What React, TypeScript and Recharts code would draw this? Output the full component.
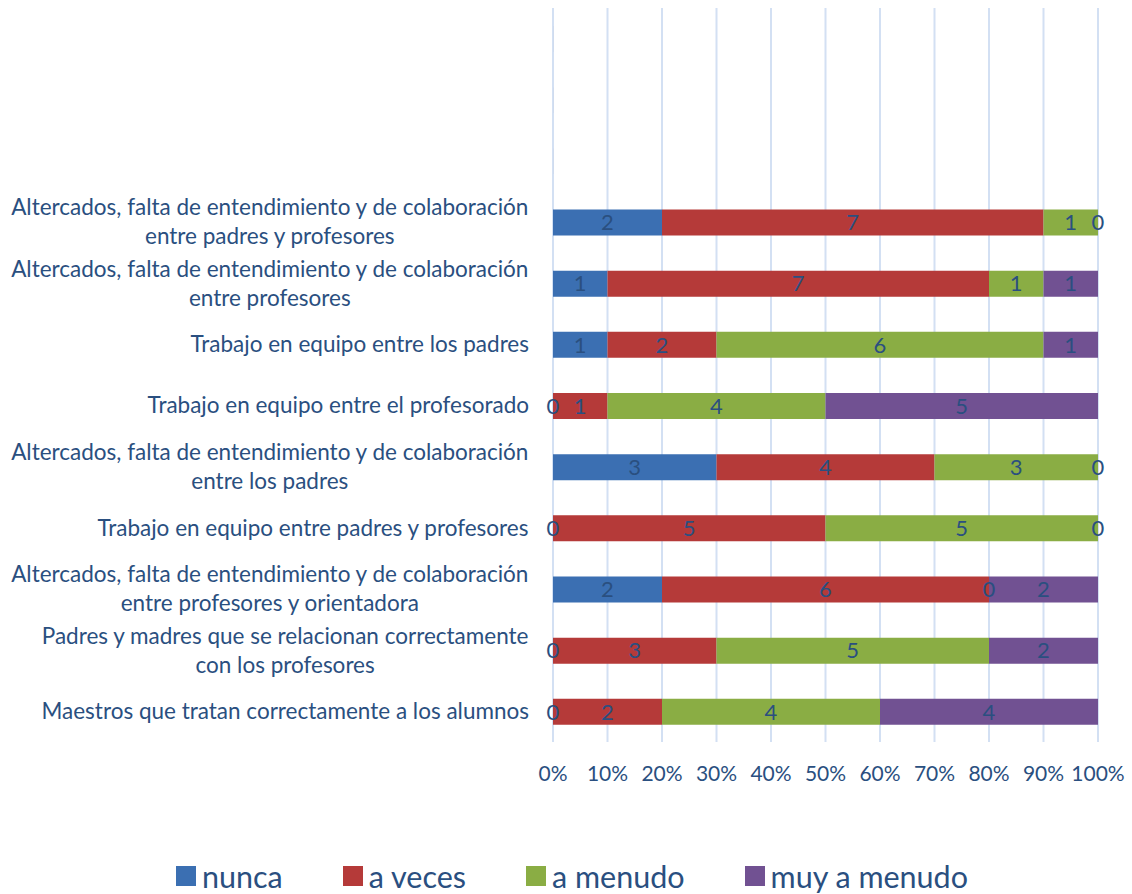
import { BarChart, Bar, XAxis, YAxis, CartesianGrid, Legend, LabelList } from "recharts";

// filas de arriba a abajo; las tres primeras van vacías (así sale en el original)
const categorias = [
  "",
  "",
  "",
  "Altercados, falta de entendimiento y de colaboración\nentre  padres y profesores",
  "Altercados, falta de entendimiento y de colaboración\nentre profesores",
  "Trabajo en equipo entre los padres",
  "Trabajo en equipo entre el profesorado",
  "Altercados, falta de entendimiento y de colaboración\nentre los padres",
  "Trabajo en equipo entre padres y profesores",
  "Altercados, falta de entendimiento y de colaboración\nentre profesores y orientadora",
  "Padres y madres que se relacionan correctamente\ncon los profesores",
  "Maestros que tratan correctamente a los alumnos",
];

const nunca = [undefined, undefined, undefined, 2, 1, 1, 0, 3, 0, 2, 0, 0];
const aVeces = [undefined, undefined, undefined, 7, 7, 2, 1, 4, 5, 6, 3, 2];
const aMenudo = [undefined, undefined, undefined, 1, 1, 6, 4, 3, 5, 0, 5, 4];
const muyAMenudo = [undefined, undefined, undefined, 0, 1, 1, 5, 0, 0, 2, 2, 4];

const ticksX = [0, 0.1, 0.2, 0.3, 0.4, 0.5, 0.6, 0.7, 0.8, 0.9, 1];

const series = [
  { key: "nunca", nombre: "nunca", color: "#3b6fb2" },
  { key: "aVeces", nombre: "a veces", color: "#b53a39" },
  { key: "aMenudo", nombre: "a menudo", color: "#8aad44" },
  { key: "muyAMenudo", nombre: "muy a menudo", color: "#715192" },
];

const datos = categorias.map((nombre, i) => ({
  id: i,
  nombre,
  nunca: nunca[i],
  aVeces: aVeces[i],
  aMenudo: aMenudo[i],
  muyAMenudo: muyAMenudo[i],
}));

const FUENTE = "Lato, sans-serif";
const AZUL_TEXTO = "#2a4f80";
const TAM_EJE = 22.5;
const BORDE_ETIQUETAS = 529;

const ctx = document.createElement("canvas").getContext("2d")!;
const medir = (t: string) => {
  ctx.font = `${TAM_EJE}px ${FUENTE}`;
  return ctx.measureText(t).width;
};

const EtiquetaY = ({ y, payload }: any) => {
  const texto = categorias[payload.value] ?? "";
  if (!texto) return null;
  const lineas = texto.split("\n");
  const ancho = Math.max(...lineas.map(medir));
  const cx = BORDE_ETIQUETAS - ancho / 2;
  const alto = 29;
  const y0 = y - ((lineas.length - 1) * alto) / 2;
  return (
    <g>
      {lineas.map((l, i) => (
        <text
          key={i}
          x={cx}
          y={y0 + i * alto}
          dy="0.35em"
          textAnchor="middle"
          fill={AZUL_TEXTO}
          fontSize={TAM_EJE}
          fontFamily={FUENTE}
        >
          {l}
        </text>
      ))}
    </g>
  );
};

const Leyenda = () => (
  <div
    style={{
      height: 36,
      display: "flex",
      justifyContent: "center",
      alignItems: "center",
      gap: 60,
      paddingLeft: 46,
      fontFamily: FUENTE,
      fontSize: 30.5,
      color: AZUL_TEXTO,
    }}
  >
    {series.map((s) => (
      <div key={s.key} style={{ display: "flex", alignItems: "center", gap: 6 }}>
        <span style={{ width: 20, height: 20, background: s.color, display: "inline-block" }} />
        <span>{s.nombre}</span>
      </div>
    ))}
  </div>
);

export default function App() {
  return (
    <div style={{ position: "absolute", left: 0, top: 0, background: "#fff" }}>
      <BarChart
        width={1132}
        height={894}
        data={datos}
        layout="vertical"
        stackOffset="expand"
        barSize={26}
        margin={{ top: 8, right: 34, left: 0, bottom: 0 }}
      >
        <CartesianGrid horizontal={false} stroke="#d3e0f3" strokeWidth={2} />
        <XAxis
          type="number"
          domain={[0, 1]}
          ticks={ticksX}
          tickFormatter={(v: number) => `${Math.round(v * 100)}%`}
          axisLine={false}
          tickLine={false}
          tickMargin={18}
          height={116}
          tick={{ fill: AZUL_TEXTO, fontSize: 21, fontFamily: FUENTE }}
          interval={0}
        />
        <YAxis
          type="category"
          dataKey="id"
          width={553}
          axisLine={false}
          tickLine={false}
          interval={0}
          tick={<EtiquetaY />}
        />
        <Legend verticalAlign="bottom" content={<Leyenda />} />
        {series.map((s) => (
          <Bar
            key={s.key}
            dataKey={s.key}
            name={s.nombre}
            stackId="a"
            fill={s.color}
            minPointSize={0.01}
            isAnimationActive={false}
          >
            <LabelList
              dataKey={s.key}
              position="center"
              fill={AZUL_TEXTO}
              fontSize={22}
              fontFamily={FUENTE}
            />
          </Bar>
        ))}
      </BarChart>
    </div>
  );
}
